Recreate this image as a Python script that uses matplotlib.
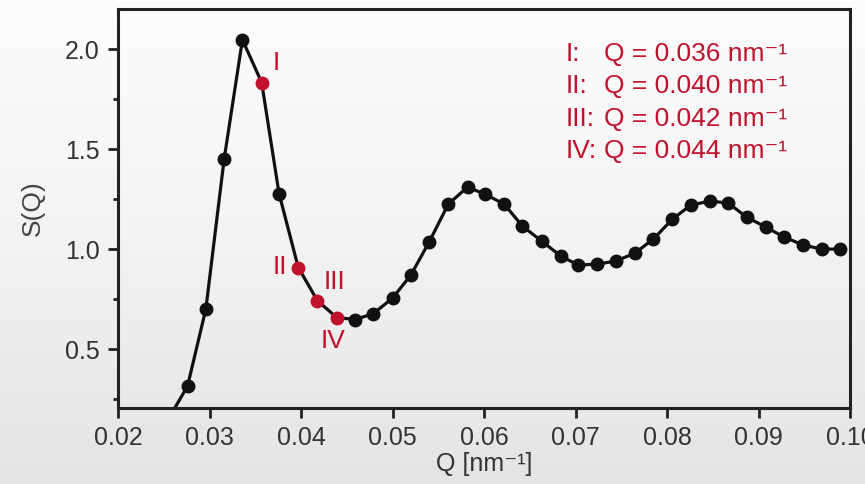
import numpy as np
import matplotlib
matplotlib.use("Agg")
import matplotlib.pyplot as plt
from matplotlib.colors import LinearSegmentedColormap

plt.rcParams['font.family'] = ['Liberation Sans', 'DejaVu Sans']

# ---- data ----
q = [0.0255, 0.0276, 0.0296, 0.0316, 0.0336, 0.0357, 0.0376, 0.0397, 0.0418, 0.0439,
     0.0459, 0.0479, 0.0500, 0.0520, 0.0540, 0.0561, 0.0582, 0.0601, 0.0622, 0.0642,
     0.0663, 0.0684, 0.0703, 0.0724, 0.0744, 0.0765, 0.0785, 0.0806, 0.0826, 0.0847,
     0.0867, 0.0887, 0.0908, 0.0928, 0.0949, 0.0969, 0.0989]
s = [0.15, 0.315, 0.70, 1.45, 2.047, 1.833, 1.278, 0.908, 0.742, 0.658,
     0.648, 0.677, 0.755, 0.87, 1.035, 1.225, 1.31, 1.275, 1.225, 1.115,
     1.04, 0.965, 0.92, 0.925, 0.94, 0.98, 1.05, 1.15, 1.22, 1.24,
     1.23, 1.16, 1.11, 1.06, 1.02, 1.0, 1.0]
highlight_idx = [5, 7, 8, 9]
highlight_labels = ["I", "II", "III", "IV"]
highlight_q_text = ["0.036", "0.040", "0.042", "0.044"]
xticks = [0.02, 0.03, 0.04, 0.05, 0.06, 0.07, 0.08, 0.09, 0.10]
yticks = [0.5, 1.0, 1.5, 2.0]

RED = '#c0122c'
W, H = 865, 484
fig = plt.figure(figsize=(W / 100, H / 100), dpi=100)

# background gradient
bg = fig.add_axes([0, 0, 1, 1], zorder=-10)
grad = np.linspace(0, 1, 256).reshape(-1, 1)
cmap = LinearSegmentedColormap.from_list('bg', ['#fdfdfd', '#f3f3f3', '#e4e4e4'])
bg.imshow(grad, aspect='auto', cmap=cmap, extent=[0, 1, 0, 1], origin='upper')
bg.axis('off')

L, R, B, T = 118, 850, 407.5, 9.3
ax = fig.add_axes([L / W, 1 - B / H, (R - L) / W, (B - T) / H])
ax.patch.set_alpha(0)

qa = np.array(q)
sa = np.array(s)
mask = np.ones(len(q), bool)
mask[highlight_idx] = False
ax.plot(qa, sa, '-', color='#111111', lw=2.3, zorder=2)
ax.plot(qa[mask], sa[mask], 'o', color='#111111', ms=9, zorder=3)
ax.plot(qa[highlight_idx], sa[highlight_idx], 'o', color=RED, ms=9, zorder=4)

offsets = [(15, 19), (-18, 0), (17, 19), (-4, -23)]
for i, lab, off in zip(highlight_idx, highlight_labels, offsets):
    ax.annotate(lab, (qa[i], sa[i]), xytext=off, textcoords='offset pixels',
                ha='center', va='center', color=RED, fontsize=19)

ax.set_xlim(0.02, 0.10)
ax.set_ylim(0.208, 2.199)
ax.set_xticks(xticks)
ax.set_xticklabels([f"{t:.2f}" for t in xticks])
ax.set_yticks(yticks)
ax.set_yticklabels([f"{t:.1f}" for t in yticks])
ax.set_yticks([0.25, 0.75, 1.25, 1.75], minor=True)
ax.tick_params(axis='both', which='major', direction='out', length=7, width=2,
               color='#222222', labelsize=18, labelcolor='#333333', pad=6)
ax.tick_params(axis='y', which='minor', direction='out', length=3.5, width=2, color='#222222')
ax.tick_params(top=False, right=False)
for sp in ax.spines.values():
    sp.set_linewidth(2.2)
    sp.set_color('#222222')

ax.set_xlabel("Q [nm\u207b\u00b9]", fontsize=18, color='#333333', labelpad=2)
ax.set_ylabel("S(Q)", fontsize=19, color='#444444', labelpad=15)

ys = [54, 86, 119, 151]
for lab, qt, y in zip(highlight_labels, highlight_q_text, ys):
    fig.text(566 / W, 1 - y / H, lab + ":", color=RED, fontsize=19, ha='left', va='center')
    fig.text(604 / W, 1 - y / H, "Q = " + qt + " nm\u207b\u00b9", color=RED,
             fontsize=19, ha='left', va='center')

fig.savefig("out.png", dpi=100)
